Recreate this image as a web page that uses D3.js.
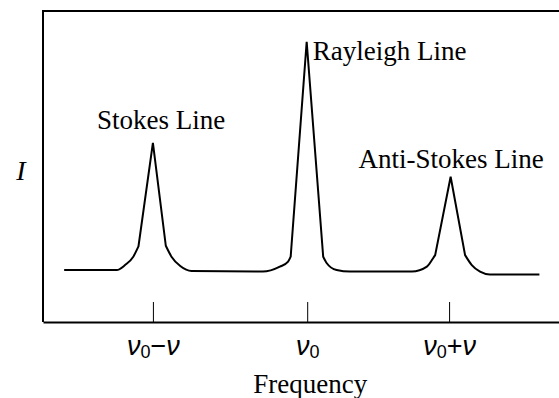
<!DOCTYPE html>
<html lang="en">
<head>
<meta charset="utf-8">
<style>
    body { margin: 0; background: #fff; }
    svg { display: block; font-family: "Liberation Serif", "Times New Roman", serif; }
    .frame { fill: none; stroke: #000; stroke-width: 2; }
    .trace { fill: none; stroke: #000; stroke-width: 2; stroke-linejoin: miter; }
    .axis .domain { stroke: #000; stroke-width: 2; }
    .axis .tick line { stroke: #000; stroke-width: 1; }
</style>
<script src="https://d3js.org/d3.v7.min.js"></script>
</head>
<body>
<svg id="chart" width="559" height="398"></svg>
<script>
    // Spectrum trace (arbitrary units, frequency 0-100, intensity 0-100)
    const traceFreq = [4.1, 14.3, 15.9, 17.5, 18.5, 21.3, 23.8, 24.9, 26.6, 28.8,
                       42.6, 45.9, 47.5, 48.0, 51.1, 54.3, 55.0, 56.9, 59.5,
                       71.5, 74.4, 75.6, 76.0, 79.0, 81.8, 83.1, 84.7, 86.6, 96.2];
    const traceIntensity = [16.7, 16.7, 18.3, 21.0, 24.3, 57.6, 24.5, 21.0, 18.0, 16.4,
                            16.2, 17.8, 19.4, 21.0, 90.1, 21.0, 18.9, 16.7, 16.2,
                            16.2, 17.8, 20.5, 21.5, 46.7, 21.5, 18.3, 16.2, 15.3, 15.3];
    // sharp points (line kinks and peak tips); the stretches between them are smooth
    const cornerIdx = [4, 5, 6, 13, 14, 15, 22, 23, 24];
    const peakIdx = [5, 14, 23];
    const peakNames = ["Stokes Line", "Rayleigh Line", "Anti-Stokes Line"];

    const tickFreq = [21.3, 51.2, 78.7];
    const tickLabels = ["ν0−ν", "ν0", "ν0+ν"];
    const xTitle = "Frequency";
    const yTitle = "I";

    const svg = d3.select("#chart");
    const x = d3.scaleLinear().domain([0, 100]).range([43, 559]);
    const y = d3.scaleLinear().domain([0, 100]).range([322, 11]);

    // top and left edges of the frame
    svg.append("path")
        .attr("class", "frame")
        .attr("d", `M${x.range()[1]},${y.range()[1]}H${x.range()[0]}V${y.range()[0]}`);

    // bottom axis with inward ticks
    const axis = svg.append("g")
        .attr("class", "axis")
        .attr("transform", `translate(0,${y.range()[0]})`)
        .call(d3.axisBottom(x).tickValues(tickFreq).tickSizeInner(-20).tickSizeOuter(0));

    axis.selectAll(".tick text").remove();
    axis.selectAll(".tick").append("text")
        .attr("y", 33)
        .attr("fill", "#000")
        .attr("text-anchor", "middle")
        .style("font-size", "27px")
        .each(function (d, i) {
            const t = d3.select(this);
            let sub = false;
            for (const ch of tickLabels[i]) {
                const s = t.append("tspan").text(ch);
                if (ch === "ν") {
                    s.style("font-style", "italic");
                    if (sub) { s.attr("dy", -3); sub = false; }
                } else if (ch === "0") {
                    s.style("font-size", "18px").attr("dy", 3);
                    sub = true;
                } else if (sub) {
                    s.attr("dy", -3); sub = false;
                }
            }
        });

    // trace, split at the sharp points
    const pts = traceFreq.map((f, i) => [f, traceIntensity[i]]);
    const breaks = [0, ...cornerIdx, pts.length - 1];
    const line = d3.line().x(d => x(d[0])).y(d => y(d[1])).curve(d3.curveMonotoneX);
    let d = "";
    for (let k = 0; k < breaks.length - 1; k++) {
        const seg = pts.slice(breaks[k], breaks[k + 1] + 1);
        const p = line(seg);
        d += k === 0 ? p : p.replace(/^M[^CLZ]*/, "");
    }
    svg.append("path").attr("class", "trace").attr("d", d);

    // peak labels, placed relative to the peak tips
    const labelOffsets = [[-56, -14, "start"], [6, 18, "start"], [93, -9, "end"]];
    svg.selectAll(".peak-label")
        .data(peakIdx)
        .join("text")
        .attr("class", "peak-label")
        .attr("x", (p, i) => x(traceFreq[p]) + labelOffsets[i][0])
        .attr("y", (p, i) => y(traceIntensity[p]) + labelOffsets[i][1])
        .attr("text-anchor", (p, i) => labelOffsets[i][2])
        .style("font-size", "27px")
        .text((p, i) => peakNames[i]);

    svg.append("text")
        .attr("x", x(tickFreq[1]) + 3)
        .attr("y", 393)
        .attr("text-anchor", "middle")
        .style("font-size", "27px")
        .text(xTitle);

    svg.append("text")
        .attr("x", 21)
        .attr("y", 180)
        .attr("text-anchor", "middle")
        .style("font-size", "28px")
        .style("font-style", "italic")
        .text(yTitle);
</script>
</body>
</html>
